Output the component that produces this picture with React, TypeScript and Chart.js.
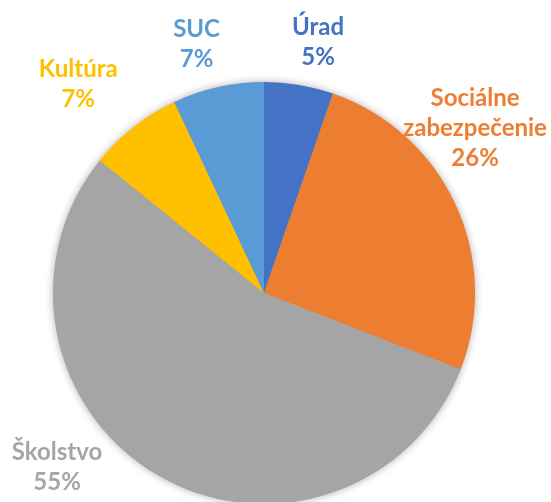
import React, { useEffect, useRef } from "react";
import { Chart, registerables } from "chart.js";

Chart.register(...registerables);

const categories = ["Úrad", "Sociálne zabezpečenie", "Školstvo", "Kultúra", "SUC"];
const values = [5.3, 25.6, 54.9, 7.2, 7.0];
const colors = ["#4472C4", "#ED7D31", "#A5A5A5", "#FFC000", "#5B9BD5"];

// label layout: angular nudge (deg) from slice mid-angle and distance as multiple of radius
const labelAngleShift = [2.6, -13.2, 20.0, -3.4, -2.5];
const labelDistance = [1.217, 1.27, 1.279, 1.327, 1.227];

const FONT = "bold 24px Lato, 'Open Sans', sans-serif";
const LINE_H = 30;
const CAP_H = 17;

function wrap(ctx: CanvasRenderingContext2D, text: string, maxW: number): string[] {
  const words = text.split(" ");
  const lines: string[] = [];
  let cur = "";
  for (const w of words) {
    const t = cur ? cur + " " + w : w;
    if (cur && ctx.measureText(t).width > maxW) {
      lines.push(cur);
      cur = w;
    } else cur = t;
  }
  if (cur) lines.push(cur);
  return lines;
}

const shadowPlugin = {
  id: "pieShadow",
  beforeDatasetsDraw(chart: any) {
    const meta = chart.getDatasetMeta(0);
    const arc = meta.data[0];
    if (!arc) return;
    const ctx = chart.ctx;
    ctx.save();
    ctx.shadowColor = "rgba(0,0,0,0.35)";
    ctx.shadowBlur = 9;
    ctx.shadowOffsetX = 0;
    ctx.shadowOffsetY = 0;
    ctx.fillStyle = "#A5A5A5";
    ctx.beginPath();
    ctx.arc(arc.x, arc.y, arc.outerRadius - 0.5, 0, Math.PI * 2);
    ctx.fill();
    ctx.restore();
  },
};

const labelPlugin = {
  id: "pieLabels",
  afterDatasetsDraw(chart: any) {
    const ctx = chart.ctx;
    const meta = chart.getDatasetMeta(0);
    const data = chart.data.datasets[0].data as number[];
    const total = data.reduce((a, b) => a + b, 0);
    ctx.save();
    ctx.font = FONT;
    ctx.textAlign = "center";
    ctx.textBaseline = "alphabetic";
    meta.data.forEach((arc: any, i: number) => {
      const mid = (arc.startAngle + arc.endAngle) / 2 + (labelAngleShift[i] * Math.PI) / 180;
      const d = arc.outerRadius * labelDistance[i];
      const cx = arc.x + Math.cos(mid) * d;
      const cy = arc.y + Math.sin(mid) * d;
      const lines = wrap(ctx, chart.data.labels[i], 160);
      lines.push(Math.round((data[i] / total) * 100) + "%");
      const n = lines.length;
      const firstBase = cy - ((n - 1) * LINE_H) / 2 + CAP_H / 2;
      ctx.fillStyle = colors[i];
      lines.forEach((ln, k) => ctx.fillText(ln, cx, firstBase + k * LINE_H));
    });
    ctx.restore();
  },
};

export default function App() {
  const ref = useRef<HTMLCanvasElement>(null);
  useEffect(() => {
    if (!ref.current) return;
    const chart = new Chart(ref.current, {
      type: "pie",
      data: {
        labels: categories,
        datasets: [
          {
            data: values,
            backgroundColor: colors,
            borderWidth: 0,
            hoverOffset: 0,
            offset: 0,
          } as any,
        ],
      },
      options: {
        responsive: false,
        animation: false,
        events: [],
        layout: { padding: { left: 53, right: 76, top: 82, bottom: 6 } },
        plugins: { legend: { display: false }, tooltip: { enabled: false } },
      },
      plugins: [shadowPlugin, labelPlugin],
    });
    return () => chart.destroy();
  }, []);
  return (
    <div
      style={{
        position: "absolute",
        left: 0,
        top: 0,
        width: 551,
        height: 502,
        overflow: "hidden",
        background: "#fff",
      }}
    >
      <canvas ref={ref} width={551} height={510} style={{ display: "block" }} />
    </div>
  );
}
